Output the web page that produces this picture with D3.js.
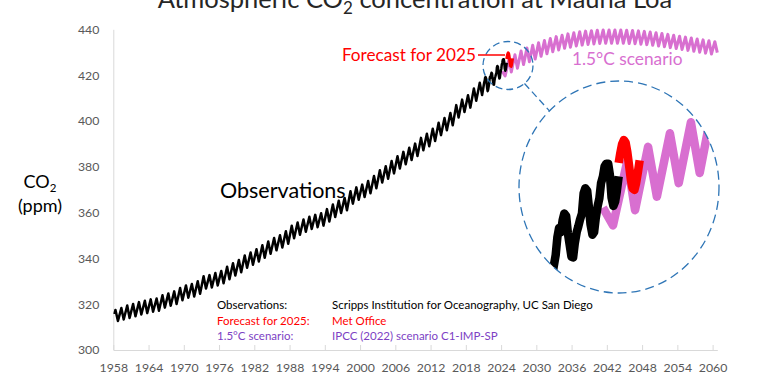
<!DOCTYPE html>
<html><head><meta charset="utf-8">
<script src="https://cdn.jsdelivr.net/npm/d3@7"></script>
<style>
body{margin:0;background:#fff}
svg{display:block}
text{font-family:Lato,"Noto Sans",sans-serif}
</style>
</head><body>
<svg id="c" width="768" height="384"></svg>
<script>
// ---------------- data ----------------
const xTickYears = [1958,1964,1970,1976,1982,1988,1994,2000,2006,2012,2018,2024,2030,2036,2042,2048,2054,2060];
const yTickValues = [300,320,340,360,380,400,420,440];

// Observations (Scripps, Mauna Loa): [decimal year, ppm]
const observed = [
[1958.20,315.7],[1958.37,317.5],[1958.79,312.7],
[1959.37,318.3],[1959.77,313.3],[1960.37,319.4],[1960.77,314.0],[1961.37,320.1],[1961.77,314.7],
[1962.37,320.9],[1962.77,315.5],[1963.37,321.5],[1963.77,316.1],[1964.37,322.1],[1964.77,316.7],
[1965.37,322.5],[1965.77,317.1],[1966.37,323.9],[1966.77,318.5],[1967.37,324.7],[1967.77,319.3],
[1968.37,325.6],[1968.77,320.1],[1969.37,327.1],[1969.77,321.7],[1970.37,328.2],[1970.77,322.8],
[1971.37,328.8],[1971.77,323.4],[1972.37,330.0],[1972.77,324.6],[1973.37,332.2],[1973.77,326.8],
[1974.37,332.7],[1974.77,327.3],[1975.37,333.6],[1975.77,328.2],[1976.37,334.5],[1976.77,329.1],
[1977.37,336.3],[1977.77,330.9],[1978.37,337.9],[1978.77,332.5],[1979.37,339.3],[1979.77,333.9],
[1980.37,341.3],[1980.77,335.9],[1981.37,342.6],[1981.77,337.2],[1982.37,344.0],[1982.77,338.6],
[1983.37,345.7],[1983.77,340.3],[1984.37,347.4],[1984.77,342.0],[1985.37,348.9],[1985.77,343.5],
[1986.37,350.1],[1986.77,344.7],[1987.37,351.8],[1987.77,346.4],[1988.37,354.2],[1988.77,348.8],
[1989.37,355.7],[1989.77,350.3],[1990.37,357.0],[1990.77,351.6],[1991.37,358.2],[1991.77,352.8],
[1992.37,359.0],[1992.77,353.6],[1993.37,359.7],[1993.77,354.3],[1994.37,361.5],[1994.77,356.1],
[1995.37,363.5],[1995.77,358.1],[1996.37,365.2],[1996.77,359.8],[1997.37,366.4],[1997.77,361.0],
[1998.37,369.3],[1998.77,363.9],[1999.37,371.0],[1999.77,365.6],[2000.37,372.2],[2000.77,366.8],
[2001.37,373.8],[2001.77,368.4],[2002.37,376.0],[2002.77,370.6],[2003.37,378.5],[2003.77,373.1],
[2004.37,380.2],[2004.77,374.8],[2005.37,382.5],[2005.77,377.1],[2006.37,384.6],[2006.77,379.2],
[2007.37,386.5],[2007.77,381.1],[2008.37,388.3],[2008.77,382.9],[2009.37,390.1],[2009.77,384.7],
[2010.37,392.6],[2010.77,387.2],[2011.37,394.4],[2011.77,388.9],[2012.37,396.6],[2012.77,391.2],
[2013.37,399.2],[2013.77,393.8],[2014.37,401.3],[2014.77,395.9],[2015.37,403.5],[2015.77,398.1],
[2016.37,406.9],[2016.77,401.5],[2017.37,409.3],[2017.77,403.9],[2018.37,411.2],[2018.77,405.8],
[2019.37,414.2],[2019.77,408.8],[2020.37,416.7],[2020.77,411.3],
[2021.04,415.5],[2021.12,416.7],[2021.21,417.6],[2021.29,419.0],[2021.37,419.1],[2021.46,418.5],
[2021.54,416.6],[2021.62,414.5],[2021.71,413.0],[2021.79,413.6],[2021.87,414.8],[2021.96,416.1],
[2022.04,418.2],[2022.12,419.3],[2022.21,418.8],[2022.29,420.2],[2022.37,421.0],[2022.46,420.7],
[2022.54,418.7],[2022.62,417.4],[2022.71,415.9],[2022.79,415.8],[2022.87,417.5],[2022.96,418.8],
[2023.04,419.5],[2023.12,420.3],[2023.21,421.0],[2023.29,423.4],[2023.37,424.0],[2023.46,423.7],
[2023.54,421.8],[2023.62,419.7],[2023.71,418.5],[2023.79,418.8],[2023.87,420.5],[2023.96,421.9],
[2024.04,422.8],[2024.12,424.6],[2024.21,425.4],[2024.29,426.6],[2024.37,426.9],[2024.46,426.9],
[2024.54,425.6],[2024.62,422.9],[2024.71,421.9],[2024.79,422.4],[2024.87,423.6],[2024.96,425.4]
];

// Met Office forecast for 2025
const forecast2025 = [
[2024.96,427.0],[2025.04,428.2],[2025.12,429.2],[2025.21,429.7],[2025.29,429.4],[2025.37,428.3],
[2025.46,426.6],[2025.54,425.0],[2025.62,424.0],[2025.71,423.8],[2025.79,424.6],[2025.87,425.8],[2025.96,427.3]
];

// IPCC (2022) C1-IMP-SP 1.5°C scenario
const scenario15 = [
[2024.21,421.7],[2024.69,419.6],[2025.37,427.2],[2025.74,421.4],[2026.36,428.9],[2026.78,423.0],
[2027.40,430.5],[2027.82,424.6],[2028.40,431.8],[2028.82,425.8],
[2029.38,433.0],[2029.80,427.0],[2030.38,434.1],[2030.80,428.2],[2031.38,435.1],[2031.80,429.3],
[2032.38,436.0],[2032.80,430.2],[2033.38,436.8],[2033.80,431.0],[2034.38,437.4],[2034.80,431.7],
[2035.38,438.0],[2035.80,432.2],[2036.38,438.5],[2036.80,432.7],[2037.38,438.9],[2037.80,433.1],
[2038.38,439.2],[2038.80,433.4],[2039.38,439.4],[2039.80,433.6],[2040.38,439.6],[2040.80,433.8],
[2041.38,439.7],[2041.80,433.9],[2042.38,439.7],[2042.80,433.9],[2043.38,439.7],[2043.80,433.9],
[2044.38,439.7],[2044.80,433.9],[2045.38,439.6],[2045.80,433.8],[2046.38,439.5],[2046.80,433.7],
[2047.38,439.3],[2047.80,433.5],[2048.38,439.1],[2048.80,433.3],[2049.38,438.8],[2049.80,433.0],
[2050.38,438.5],[2050.80,432.7],[2051.38,438.2],[2051.80,432.4],[2052.38,437.8],[2052.80,432.0],
[2053.38,437.4],[2053.80,431.6],[2054.38,437.0],[2054.80,431.2],[2055.38,436.6],[2055.80,430.8],
[2056.38,436.2],[2056.80,430.4],[2057.38,435.8],[2057.80,430.0],[2058.38,435.4],[2058.80,429.6],
[2059.38,435.0],[2059.80,429.2],[2060.38,434.6],[2060.80,429.8]
];

const legendLabels = ["Observations:","Forecast for 2025:","1.5°C scenario:"];
const legendSources = ["Scripps Institution for Oceanography, UC San Diego","Met Office","IPCC (2022) scenario C1-IMP-SP"];

// ---------------- drawing ----------------
const colObs = "#000000", colFc = "#ff0000", colSc = "#d86fd0";
const legendColors = ["#000000", "#ff0000", "#7d3fc4"];
const blue = "#2e75b6";

const svg = d3.select("#c");
const x = d3.scaleLinear().domain([1958, 2060.8]).range([113.3, 717.3]);
const y = d3.scaleLinear().domain([300, 440]).range([350, 29.3]);

// axes
const gx = svg.append("g").attr("transform","translate(0,350)")
  .call(d3.axisBottom(x).tickValues(xTickYears).tickFormat(d3.format("d"))
        .tickSizeInner(-5).tickSizeOuter(0).tickPadding(13));
gx.select(".domain").attr("stroke","#d9d9d9");
gx.selectAll(".tick line").attr("stroke","#d9d9d9");
gx.selectAll(".tick text").attr("fill","#595959").attr("font-size",12.3).attr("font-family","Lato");

const gy = svg.append("g").attr("transform","translate(113.3,0)")
  .call(d3.axisLeft(y).tickValues(yTickValues).tickSize(0).tickPadding(14));
gy.select(".domain").attr("stroke","#d9d9d9");
gy.selectAll(".tick text").attr("fill","#595959").attr("font-size",12.3).attr("font-family","Lato");

// main lines
const line = d3.line().x(d=>x(d[0])).y(d=>y(d[1]));
svg.append("path").datum(scenario15).attr("d",line).attr("fill","none")
  .attr("stroke",colSc).attr("stroke-width",3).attr("stroke-linejoin","round");
svg.append("path").datum(observed).attr("d",line).attr("fill","none")
  .attr("stroke",colObs).attr("stroke-width",2.5).attr("stroke-linejoin","round");
svg.append("path").datum(forecast2025).attr("d",line).attr("fill","none")
  .attr("stroke",colFc).attr("stroke-width",3).attr("stroke-linejoin","round");

// zoom inset (magnified view of 2021.8 - 2029)
const small = {cx:508, cy:65.5, rx:25, ry:24};
const big = {cx:619, cy:187, rx:100, ry:106};
const insetStart = 2021.79;
const xi = d3.scaleLinear().domain([2022.37, 2028.40]).range([564.3, 690.9]);
const yi = d3.scaleLinear().domain([415, 430]).range([264.3, 137.5]);
const linei = d3.line().x(d=>xi(d[0])).y(d=>yi(d[1]));

svg.append("clipPath").attr("id","insetClip").append("ellipse")
  .attr("cx",big.cx).attr("cy",big.cy).attr("rx",big.rx).attr("ry",big.ry);
const gi = svg.append("g").attr("clip-path","url(#insetClip)");
gi.append("path").datum(scenario15).attr("d",linei).attr("fill","none")
  .attr("stroke",colSc).attr("stroke-width",8.5).attr("stroke-linejoin","round");
gi.append("path").datum(observed.filter(d=>d[0]>=insetStart)).attr("d",linei).attr("fill","none")
  .attr("stroke",colObs).attr("stroke-width",8.5).attr("stroke-linejoin","round");
gi.append("path").datum(forecast2025).attr("d",linei).attr("fill","none")
  .attr("stroke",colFc).attr("stroke-width",8.5).attr("stroke-linejoin","round");

// dashed circles and connector
[small, big].forEach((e,i)=>{
  svg.append("ellipse").attr("cx",e.cx).attr("cy",e.cy).attr("rx",e.rx).attr("ry",e.ry)
    .attr("fill","none").attr("stroke",blue).attr("stroke-width",1.3)
    .attr("stroke-dasharray", i===0 ? "7,4" : "9,5");
});
{
  const dx = big.cx - small.cx, dy = big.cy - small.cy, L = Math.hypot(dx,dy);
  const ux = dx/L, uy = dy/L;
  const t1 = 1/Math.hypot(ux/small.rx, uy/small.ry);
  const t2 = 1/Math.hypot(ux/big.rx, uy/big.ry);
  svg.append("line")
    .attr("x1", small.cx + ux*t1).attr("y1", small.cy + uy*t1)
    .attr("x2", big.cx - ux*t2).attr("y2", big.cy - uy*t2)
    .attr("stroke",blue).attr("stroke-width",1.3).attr("stroke-dasharray","7,4");
}

// title
const title = svg.append("text").attr("x",415).attr("y",8).attr("text-anchor","middle")
  .attr("font-size",25.5).attr("fill","#262626");
title.append("tspan").text("Atmospheric CO");
title.append("tspan").attr("font-size",17).attr("dy",6).text("2");
title.append("tspan").attr("dy",-6).text(" concentration at Mauna Loa");

// y axis title
const yt = svg.append("text").attr("x",40).attr("y",188).attr("text-anchor","middle")
  .attr("font-size",18).attr("fill","#000");
yt.append("tspan").text("CO");
yt.append("tspan").attr("font-size",11.5).attr("dy",3.5).text("2");
svg.append("text").attr("x",40).attr("y",212).attr("text-anchor","middle")
  .attr("font-size",18).attr("fill","#000").text("(ppm)");

// series annotations
svg.append("text").attr("x",220).attr("y",198).attr("font-size",21.5).attr("fill","#000").text("Observations");
svg.append("text").attr("x",476).attr("y",61).attr("text-anchor","end").attr("font-size",17.2)
  .attr("fill",colFc).text("Forecast for 2025");
svg.append("line").attr("x1",478).attr("y1",55).attr("x2",505).attr("y2",55)
  .attr("stroke",colFc).attr("stroke-width",1.5);
svg.append("text").attr("x",572).attr("y",65).attr("font-size",17.3).attr("fill",colSc).text("1.5°C scenario");

// legend block
const lg = svg.append("g").attr("font-size",11.5);
legendLabels.forEach((t,i)=>{
  lg.append("text").attr("x",217).attr("y",309 + i*15.7).attr("fill",legendColors[i]).text(t);
  lg.append("text").attr("x",332).attr("y",309 + i*15.7).attr("fill",legendColors[i]).text(legendSources[i]);
});
</script>
</body></html>
